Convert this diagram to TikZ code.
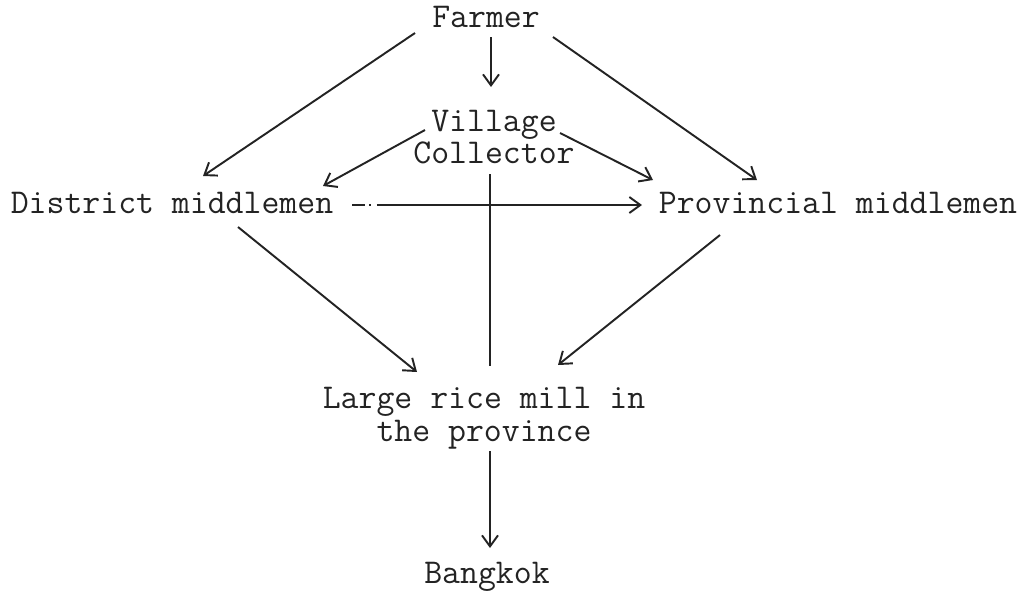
\documentclass[tikz,border=0pt]{standalone}
\usepackage{fontspec}
\usepackage{tikz}
\usetikzlibrary{arrows.meta,positioning}
\definecolor{inkgrey}{RGB}{35,35,35}

\begin{document}
\begin{tikzpicture}[
    x=0.02cm, y=-0.02cm,
    lbl/.style={font=\ttfamily\fontsize{19.8pt}{18.6pt}\selectfont, text=inkgrey, inner sep=0pt, align=center},
    arr/.style={-{Straight Barb[length=2.2mm, width=3.2mm]}, inkgrey, line width=1.1pt},
    plain/.style={inkgrey, line width=1.1pt}
]
\useasboundingbox (0,0) rectangle (1021,593);

% Nodes
\node[lbl] (farmer)     at (486,17)  {Farmer};
\node[lbl] (village)    at (494,137) {Village\\Collector};
\node[lbl] (district)   at (172,203) {District middlemen};
\node[lbl] (provincial) at (838,203) {Provincial middlemen};
\node[lbl] (mill)       at (484,418) {Large rice mill in\\the province};
\node[lbl] (bangkok)    at (487,577) {Bangkok};

% Arrows from the farmer
\draw[arr] ([shift={(5,20)}]farmer.center) -- ([shift={(-3,-50)}]village.center);
\draw[arr] ([shift={(-71,16)}]farmer.center) -- ([shift={(31,-27)}]district.center);
\draw[arr] ([shift={(67,20)}]farmer.center) -- ([shift={(-81,-23)}]provincial.center);

% Arrows from the collector
\draw[arr] ([shift={(-69,-7)}]village.center) -- ([shift={(151,-17)}]district.center);
\draw[arr] ([shift={(66,-4)}]village.center) -- ([shift={(-185,-23)}]provincial.center);
\draw[plain] ([shift={(-4,37)}]village.center) -- ([shift={(6,-52)}]mill.center);

% Middlemen
\draw[arr, dash pattern={on 0.26cm off 0.08cm on 0.04cm off 0.12cm on 20cm}]
    ([shift={(180,2)}]district.center) -- ([shift={(-196,2)}]provincial.center);
\draw[arr] ([shift={(66,24)}]district.center) -- ([shift={(-67,-46)}]mill.center);
\draw[arr] ([shift={(-118,32)}]provincial.center) -- ([shift={(74,-53)}]mill.center);

% Mill to Bangkok
\draw[arr] ([shift={(6,33)}]mill.center) -- ([shift={(3,-29)}]bangkok.center);
\end{tikzpicture}
\end{document}
